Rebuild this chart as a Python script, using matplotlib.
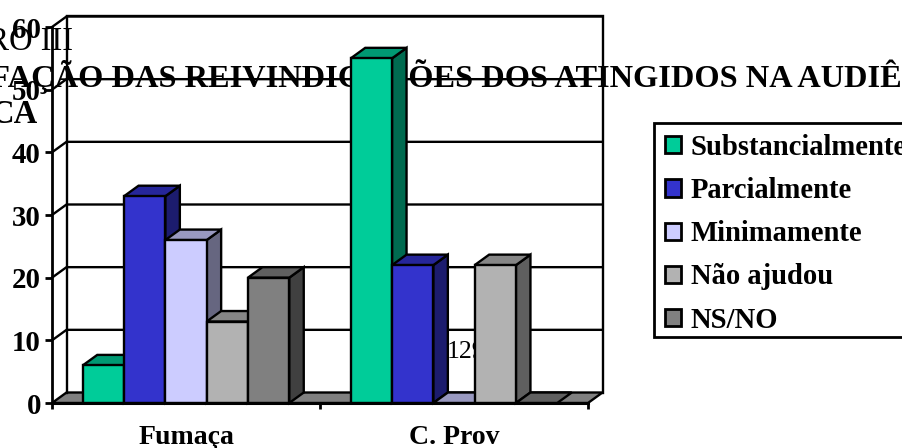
import matplotlib
matplotlib.use('Agg')
import matplotlib.pyplot as plt
from matplotlib.patches import Patch, Polygon, Rectangle

# Chart data
categories = ['Fumaça', 'C. Prov']
series_names = ['Substancialmente', 'Parcialmente', 'Minimamente', 'Não ajudou', 'NS/NO']
substancialmente = [6, 55]
parcialmente = [33, 22]
minimamente = [26, 0]
nao_ajudou = [13, 22]
ns_no = [20, 0]
y_ticks = [0, 10, 20, 30, 40, 50, 60]

series_values = [substancialmente, parcialmente, minimamente, nao_ajudou, ns_no]

# front, top and side colours of each series
front_colors = ['#00CC99', '#3333CC', '#CCCCFF', '#B2B2B2', '#808080']
top_colors = ['#009973', '#26269A', '#9999C0', '#868686', '#606060']
side_colors = ['#006B50', '#1C1C6E', '#666680', '#5F5F5F', '#404040']
floor_color = '#808080'

W, H = 902, 448
LW = 1.7
plt.rcParams['font.family'] = ['Liberation Serif', 'DejaVu Serif']

fig = plt.figure(figsize=(W / 100, H / 100), dpi=100)
fig.patch.set_facecolor('white')


def px(x, y):
    return x / W, 1 - y / H


# page text sitting behind the transparent chart
page_text = dict(transform=fig.transFigure, zorder=-1, color='black', va='baseline')
fig.text(*px(73, 50), 'QUADRO III', fontsize=23.5, ha='right', **page_text)
fig.text(*px(-101, 87), 'SATISFAÇÃO DAS REIVINDICAÇÕES DOS ATINGIDOS NA AUDIÊNCIA',
         fontsize=23.3, fontweight='bold', ha='left', **page_text)
fig.text(*px(38, 123), 'CA', fontsize=23.5, fontweight='bold', ha='right', **page_text)
fig.text(*px(447, 358), '129', fontsize=18.5, ha='left', **page_text)

ax = fig.add_axes([52 / W, 1 - 403 / H, 536 / W, 376 / H])
ax.patch.set_alpha(0)
ax.set_xlim(0, 2)
ax.set_ylim(0, 60)

# depth of the 3D box in data units
dx = 14.5 / 268
dy = 10.5 / (376 / 60)


def poly(points, color, z):
    ax.add_patch(Polygon(points, closed=True, facecolor=color, edgecolor='black',
                         linewidth=LW, joinstyle='miter', clip_on=False, zorder=z))


# floor and back wall
poly([(0, 0), (2, 0), (2 + dx, dy), (dx, dy)], floor_color, 1)
ax.plot([dx, dx, 2 + dx, 2 + dx], [dy, 60 + dy, 60 + dy, dy], color='black', lw=LW,
        clip_on=False, zorder=1.5, solid_joinstyle='miter')
for t in y_ticks[1:]:
    ax.plot([0, dx, 2 + dx], [t, t + dy, t + dy], color='black', lw=LW,
            clip_on=False, zorder=1.5)

# bars, drawn left to right so each front hides the previous side
bar_w = 41.3 / 268
margin = (1 - 5 * bar_w) / 2
z = 2
for c in range(len(categories)):
    for s in range(len(series_names)):
        left = c + margin + s * bar_w
        right = left + bar_w
        v = series_values[s][c]
        if v > 0:
            poly([(right, 0), (right + dx, dy), (right + dx, v + dy), (right, v)], side_colors[s], z)
        poly([(left, v), (right, v), (right + dx, v + dy), (left + dx, v + dy)], top_colors[s], z + 0.1)
        if v > 0:
            poly([(left, 0), (right, 0), (right, v), (left, v)], front_colors[s], z + 0.2)
        z += 1

ax.axhline(0, color='black', lw=2.2, clip_on=False, zorder=z)

for side in ['top', 'right']:
    ax.spines[side].set_visible(False)
for side in ['left', 'bottom']:
    ax.spines[side].set_linewidth(2)
    ax.spines[side].set_zorder(z + 1)

ax.set_yticks(y_ticks)
ax.set_yticklabels([str(t) for t in y_ticks], fontsize=20.8, fontweight='bold')
ax.tick_params(axis='y', length=5, width=2, pad=3)
ax.set_xticks([0, 1, 2])
ax.set_xticklabels([])
ax.tick_params(axis='x', which='major', length=4.5, width=2)
ax.set_xticks([0.5, 1.5], minor=True)
ax.set_xticklabels(categories, minor=True, fontsize=20, fontweight='bold')
ax.tick_params(axis='x', which='minor', length=0, pad=16)

# legend frame runs past the right edge of the figure
x0, y1 = px(654, 337)
fig.add_artist(Rectangle((x0, y1), 260 / W, 214 / H, transform=fig.transFigure,
                         facecolor='white', edgecolor='black', linewidth=2, zorder=1))

handles = [Patch(facecolor=fc, edgecolor='black', linewidth=2) for fc in front_colors]
leg = fig.legend(handles, series_names, loc='upper left', bbox_to_anchor=px(654, 123),
                 bbox_transform=fig.transFigure, prop={'size': 20.6, 'weight': 'bold'},
                 frameon=False, handlelength=0.55, handleheight=0.55, handletextpad=0.35,
                 labelspacing=0.566, borderpad=0.38, borderaxespad=0, labelcolor='black')
leg.set_zorder(2)

fig.savefig('out.png', dpi=100, facecolor='white')
